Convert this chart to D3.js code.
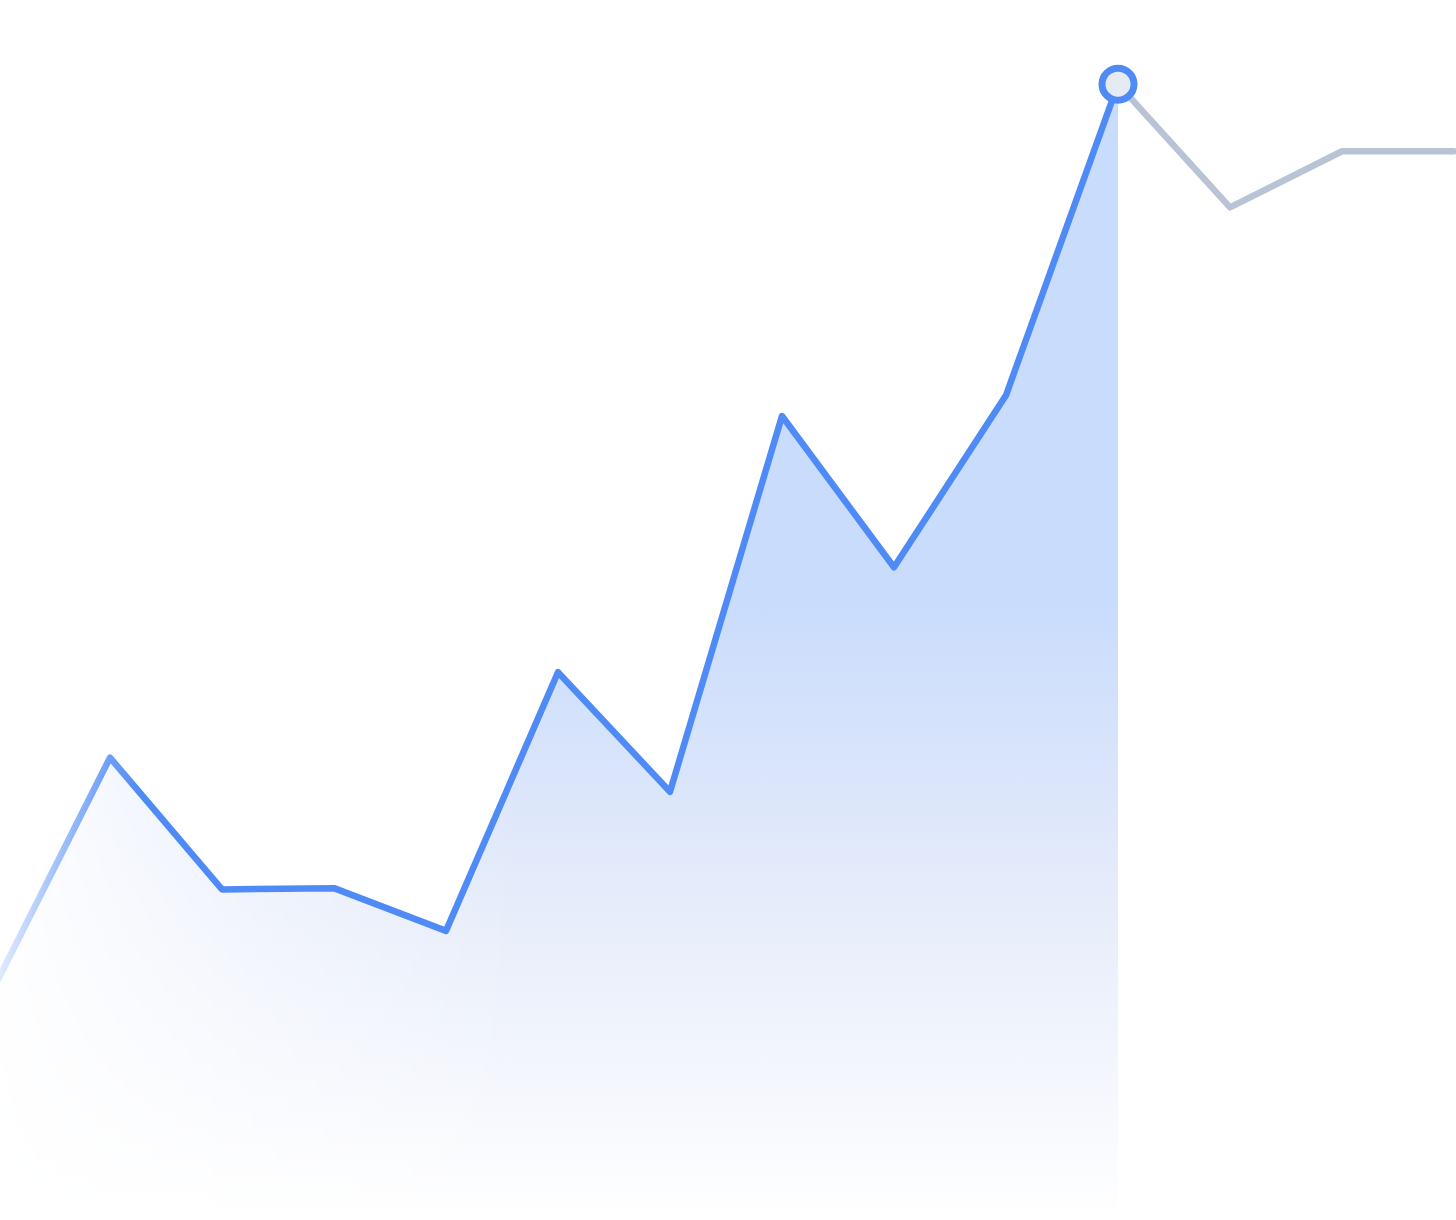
<!DOCTYPE html>
<html>
<head>
<meta charset="utf-8">
<script src="https://cdn.jsdelivr.net/npm/d3@7"></script>
<style>
  html, body { margin: 0; padding: 0; background: #fff; overflow: hidden; }
  svg { display: block; }
</style>
</head>
<body>
<svg id="chart"></svg>
<script>
// values (arbitrary units, 0..100)
const steps = d3.range(14);
const values = [19.7, 37.9, 27.1, 27.2, 23.7, 44.9, 35.1, 65.9, 53.5, 67.6, 93.1, 83.0, 87.6, 87.6];
const activeIndex = 10; // last point of the highlighted part

const width = 1456;
const height = 1220;

const svg = d3.select("#chart")
  .attr("width", width)
  .attr("height", height);

const x = d3.scaleLinear().domain([0, 13]).range([-2, width - 2]);
const y = d3.scaleLinear().domain([0, 100]).range([height, 0]);

const data = steps.map(i => ({ i, v: values[i] }));
const past = data.slice(0, activeIndex + 1);
const future = data.slice(activeIndex);

const defs = svg.append("defs");

// vertical fill of the area
const fillGrad = defs.append("linearGradient")
  .attr("id", "area-fill")
  .attr("gradientUnits", "userSpaceOnUse")
  .attr("x1", 0).attr("y1", y(values[activeIndex]))
  .attr("x2", 0).attr("y2", height);
[[0, "#cadcfc"], [0.46, "#cadcfc"], [0.72, "#e6ecfa"], [1, "#ffffff"]].forEach(([o, c]) =>
  fillGrad.append("stop").attr("offset", o).attr("stop-color", c));

// fade towards the left edge
function fadeMask(id, stops, x2) {
  const g = defs.append("linearGradient")
    .attr("id", id + "-grad")
    .attr("gradientUnits", "userSpaceOnUse")
    .attr("x1", 0).attr("y1", 0).attr("x2", x2).attr("y2", 0);
  stops.forEach(([o, a]) => g.append("stop").attr("offset", o)
    .attr("stop-color", "#fff").attr("stop-opacity", a));
  defs.append("mask")
    .attr("id", id)
    .attr("maskUnits", "userSpaceOnUse")
    .attr("x", 0).attr("y", 0).attr("width", width).attr("height", height)
    .append("rect")
    .attr("width", width).attr("height", height)
    .attr("fill", `url(#${id}-grad)`);
}
fadeMask("line-fade", [[0, 0.18], [1, 1]], 140);
fadeMask("area-fade", [[0, 0.05], [0.5, 0.6], [1, 1]], 520);

const area = d3.area()
  .x(d => x(d.i))
  .y0(height)
  .y1(d => y(d.v));

const line = d3.line()
  .x(d => x(d.i))
  .y(d => y(d.v));

svg.append("path")
  .datum(past)
  .attr("d", area)
  .attr("fill", "url(#area-fill)")
  .attr("mask", "url(#area-fade)");

svg.append("path")
  .datum(future)
  .attr("d", line)
  .attr("fill", "none")
  .attr("stroke", "#b8c4d6")
  .attr("stroke-width", 6.5)
  .attr("stroke-linejoin", "round")
  .attr("stroke-linecap", "round");

svg.append("path")
  .datum(past)
  .attr("d", line)
  .attr("fill", "none")
  .attr("stroke", "#4f8bf7")
  .attr("stroke-width", 6.5)
  .attr("stroke-linejoin", "round")
  .attr("stroke-linecap", "round")
  .attr("mask", "url(#line-fade)");

svg.append("circle")
  .attr("cx", x(activeIndex))
  .attr("cy", y(values[activeIndex]))
  .attr("r", 16)
  .attr("fill", "#e6eaf3")
  .attr("stroke", "#4f8bf7")
  .attr("stroke-width", 7);
</script>
</body>
</html>
